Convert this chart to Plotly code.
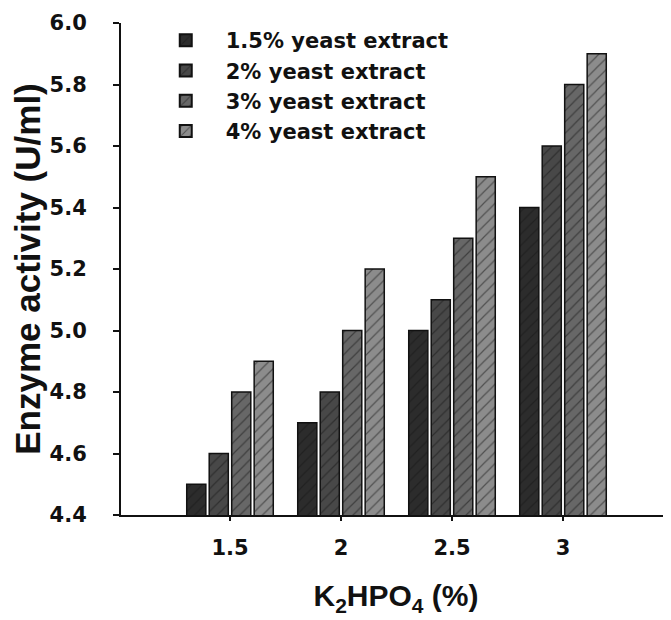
import plotly.graph_objects as go

categories = ["1.5", "2", "2.5", "3"]
series_names = ["1.5% yeast extract", "2% yeast extract", "3% yeast extract", "4% yeast extract"]
ye_15 = [4.5, 4.7, 5.0, 5.4]
ye_2 = [4.6, 4.8, 5.1, 5.6]
ye_3 = [4.8, 5.0, 5.3, 5.8]
ye_4 = [4.9, 5.2, 5.5, 5.9]
y_ticks = [4.4, 4.6, 4.8, 5.0, 5.2, 5.4, 5.6, 5.8, 6.0]

series_values = [ye_15, ye_2, ye_3, ye_4]
colors = ["#2c2c2c", "#484848", "#676767", "#8c8c8c"]

fig = go.Figure()
for name, vals, col in zip(series_names, series_values, colors):
    fig.add_trace(go.Bar(
        x=categories, y=vals, name=name,
        marker=dict(color=col, line=dict(color="#111111", width=1.5),
                    pattern=dict(shape="/", fgcolor="#151515", size=8, solidity=0.15)),
    ))

tick_font = dict(family="DejaVu Sans", size=21, color="#111111", weight="bold")

fig.update_layout(
    width=663, height=612,
    margin=dict(l=113, r=0, t=15, b=105),
    plot_bgcolor="white", paper_bgcolor="white",
    barmode="group", bargap=0.19, bargroupgap=0.15,
    showlegend=True,
    legend=dict(x=0.045, y=1.006, xanchor="left", yanchor="top",
                font=dict(family="DejaVu Sans", size=21, color="#111111", weight="bold"),
                itemwidth=70, bgcolor="rgba(0,0,0,0)", traceorder="normal",
                itemsizing="constant", tracegroupgap=0),
    xaxis=dict(type="category", range=[-0.982, 3.973], automargin=False,
               showline=True, linecolor="#111111", linewidth=2,
               ticks="outside", ticklen=4, tickwidth=1.5, tickcolor="#111111",
               tickfont=tick_font, ticklabelstandoff=9,
               showgrid=False, zeroline=False,
               title=dict(text="<b>K<sub>2</sub>HPO<sub>4</sub> (%)</b>",
                          font=dict(family="Liberation Sans", size=30, color="#111111"),
                          standoff=26)),
    yaxis=dict(range=[4.4, 6.0], tickvals=y_ticks, automargin=False,
               ticktext=[f"{v:.1f}" for v in y_ticks],
               showline=True, linecolor="#111111", linewidth=2,
               ticks="outside", ticklen=6, tickwidth=1.5, tickcolor="#111111",
               tickfont=tick_font, ticklabelstandoff=22,
               showgrid=False, zeroline=False,
               title=dict(text="<b>Enzyme activity (U/ml)</b>",
                          font=dict(family="Liberation Sans", size=35, color="#111111"),
                          standoff=16)),
)

fig.write_html("out.html")
